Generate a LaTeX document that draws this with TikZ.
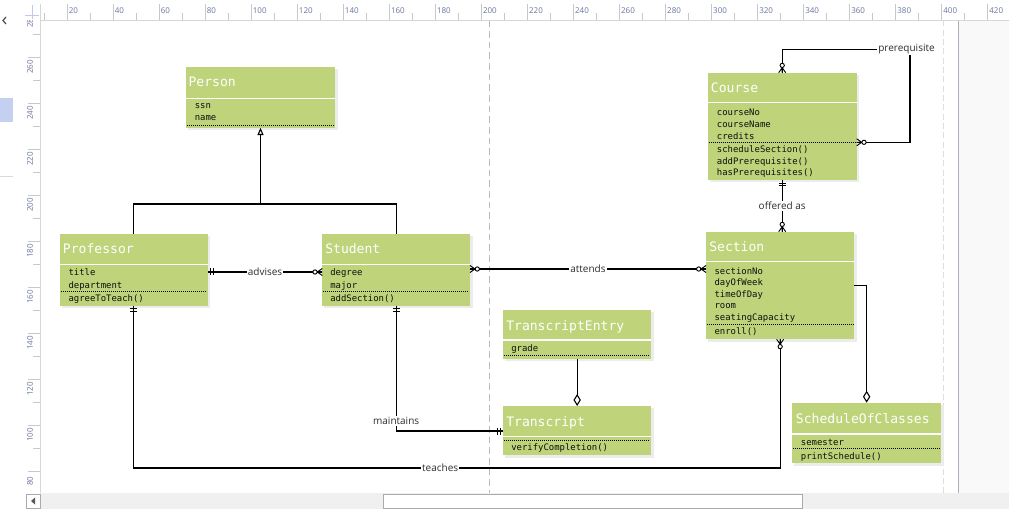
\documentclass[tikz,border=0pt]{standalone}
\usepackage{fontspec}
\setmainfont{Open Sans}
\newfontfamily\monof{DejaVu Sans Mono}
\usetikzlibrary{arrows.meta,fit,calc}
\definecolor{clsgreen}{RGB}{190,211,122}
\definecolor{shadowgray}{RGB}{236,236,236}
\definecolor{attrtext}{RGB}{15,15,15}
\definecolor{lbltext}{RGB}{45,45,45}
\definecolor{rulertext}{RGB}{105,118,160}
\definecolor{tickgray}{RGB}{200,200,200}
\definecolor{rulerline}{RGB}{215,215,215}
\definecolor{crossblue}{RGB}{190,200,240}
\definecolor{panelblue}{RGB}{197,208,240}
\definecolor{scrollgray}{RGB}{240,240,240}
\definecolor{scrollborder}{RGB}{170,170,170}
\definecolor{rightbg}{RGB}{249,249,249}
\definecolor{rightline}{RGB}{170,175,190}
\definecolor{pagedash}{RGB}{185,185,185}
\definecolor{pagedashlight}{RGB}{222,222,222}
\newcommand{\erzm}[2]{\begin{scope}[shift={(#1)},rotate=#2]
 \draw[mk] (0,-3.5) -- (5,0) -- (0,3.5) (0,0) -- (5,0);
 \draw[mk,fill=white] (7.3,0) circle [radius=1.6pt];
\end{scope}}
\newcommand{\erone}[2]{\begin{scope}[shift={(#1)},rotate=#2]
 \draw[mk] (3,-3.5) -- (3,3.5) (5.5,-3.5) -- (5.5,3.5);
\end{scope}}
\newcommand{\clsbox}[7]{%
 \fill[shadowgray] (#2+2,#3+2) rectangle (#4+2.5,#5+2.5);
 \node[clsfill, fit={(#2,#3) (#4,#5)}] (#1) {};
 \draw[sepw] (#2,#6) -- (#4,#6);
 \draw[sepdot] (#2+1,#7) -- (#4-1,#7);
}
\begin{document}
\begin{tikzpicture}[x=0.75pt,y=-0.75pt,
 conn/.style={draw=black, line width=0.8pt},
 mk/.style={draw=black, line width=0.7pt},
 clsfill/.style={fill=clsgreen, draw=none, inner sep=0pt, outer sep=0pt},
 sepw/.style={draw=white, line width=1pt},
 sepdot/.style={draw=black, line width=0.7pt, dash pattern=on 0.7pt off 0.8pt},
 ttl/.style={font=\monof\fontsize{9.8}{12}\selectfont, text=white, inner sep=0pt, anchor=base west},
 attr/.style={font=\monof\fontsize{6.7}{8}\selectfont, text=attrtext, inner sep=0pt, anchor=base west, yshift=-1.1pt},
 lbl/.style={font=\fontsize{7.5}{9}\selectfont, text=lbltext, fill=white, inner sep=0.8pt},
 rul/.style={font=\fontsize{6}{7}\selectfont, text=rulertext, inner sep=0pt},
 tick/.style={draw=tickgray, line width=0.6pt},
]
\useasboundingbox (0,0) rectangle (1009,516);
\fill[white] (0,0) rectangle (1009,516);

% ---------- editor frame ----------
\fill[rightbg] (959,20.5) rectangle (1009,493);
\draw[rightline, line width=0.9pt] (958.7,20.5) -- (958.7,493);
\draw[pagedashlight, line width=0.6pt, dash pattern=on 4.5pt off 2.5pt] (943.3,20.5) -- (943.3,493);
\draw[pagedash, line width=0.6pt, dash pattern=on 5pt off 3pt] (489,20.5) -- (489,493);

% top ruler
\draw[rulerline, line width=0.6pt] (40,20) -- (1009,20);
\draw[rulerline, line width=0.6pt] (40,4) -- (40,493);
\foreach \k in {1,...,21} {
 \pgfmathsetmacro\xx{21+46.03*\k}
 \pgfmathtruncatemacro\vv{20*\k}
 \draw[tick] (\xx,4) -- (\xx,20);
 \node[rul, anchor=west] at (\xx+1.5,11) {\vv};
}
\foreach \k in {0,...,20} {
 \draw[tick] ({44.015+46.03*\k},13) -- ++(0,7);
}
% crosshair
\draw[crossblue, line width=0.6pt] (32,5) -- (32,19) (25,15) -- (38.5,15);

% left ruler
\begin{scope}
\clip (13,20.3) rectangle (40,493);
\foreach \m in {-1,...,9} {
 \pgfmathsetmacro\yy{57.3+46.04*\m}
 \pgfmathtruncatemacro\vv{260-20*\m}
 \draw[tick] (28,\yy) -- (40,\yy);
 \draw[tick] (33,\yy+23.02) -- (40,\yy+23.02);
 \node[rul, rotate=90] at (30,\yy+9.5) {\vv};
}
\end{scope}

% left panel
\fill[panelblue] (0,98) rectangle (13,122);
\draw[black!15, line width=0.6pt] (0,176) -- (13,176);
\draw[black!70, line width=0.9pt] (6,17) -- (3,20.5) -- (6,24);

% scroll bar
\fill[scrollgray] (40,493) rectangle (1009,509);
\draw[scrollborder, fill=white, line width=0.6pt] (383,494) rectangle (802,508);
\draw[scrollborder, fill=white, line width=0.6pt] (26.5,494) rectangle (40,508);
\fill[black!65] (35,497.5) -- (31,501) -- (35,504.5) -- cycle;

% ---------- classes ----------
\clsbox{person}{186}{67}{335}{127.7}{98.3}{125}
\clsbox{prof}{60}{234}{207.7}{305.7}{264.3}{291}
\clsbox{student}{322.3}{234}{470}{305.7}{264.3}{291}
\clsbox{course}{707.7}{72.7}{856.7}{180}{102.7}{142.3}
\clsbox{section}{706}{231.7}{854.3}{339.3}{261.7}{324.3}
\clsbox{tentry}{503.3}{310}{651}{358.7}{340}{355}
\clsbox{transcript}{503.3}{406}{651}{455}{436.7}{440}
\clsbox{soc}{792.3}{402.7}{941}{463.3}{434}{448.3}

\node[ttl] at (188.3,87) {Person};
\node[attr] at (194.5,107.3) {ssn};
\node[attr] at (194.5,119.3) {name};

\node[ttl] at (62.7,253.5) {Professor};
\node[attr] at (68.3,274.5) {title};
\node[attr] at (68.3,287) {department};
\node[attr] at (68.3,300) {agreeToTeach()};

\node[ttl] at (325,253.5) {Student};
\node[attr] at (330,274.5) {degree};
\node[attr] at (330,287) {major};
\node[attr] at (330,300) {addSection()};

\node[ttl] at (710.7,92.5) {Course};
\node[attr] at (716.7,114) {courseNo};
\node[attr] at (716.7,126) {courseName};
\node[attr] at (716.7,137.7) {credits};
\node[attr] at (716.7,151.5) {scheduleSection()};
\node[attr] at (716.7,163) {addPrerequisite()};
\node[attr] at (716.7,174.5) {hasPrerequisites()};

\node[ttl] at (709,251.5) {Section};
\node[attr] at (714.3,272.7) {sectionNo};
\node[attr] at (714.3,284.2) {dayOfWeek};
\node[attr] at (714.3,295.7) {timeOfDay};
\node[attr] at (714.3,307.2) {room};
\node[attr] at (714.3,318.7) {seatingCapacity};
\node[attr] at (714.3,332.7) {enroll()};

\node[ttl] at (506,330) {TranscriptEntry};
\node[attr] at (511,350) {grade};

\node[ttl] at (506,426.5) {Transcript};
\node[attr] at (511,449.3) {verifyCompletion()};

\node[ttl] at (795.7,423.5) {ScheduleOfClasses};
\node[attr] at (800.7,444) {semester};
\node[attr] at (800.7,458.3) {printSchedule()};

% ---------- connectors ----------
\coordinate (gY) at (0,204);
\coordinate (advY) at (0,272);
\coordinate (attY) at (0,269);
\coordinate (tchY) at (0,468);
\coordinate (mntY) at (0,431);
\coordinate (secY) at (0,285.3);
\coordinate (preY) at (0,49.3);
\coordinate (preX) at (910,0);
\coordinate (preR) at (0,142.3);
\coordinate (preL) at (906.5,49.3);

% generalization
\draw[conn] (prof.north) |- (student.north |- gY) -- (student.north);
\draw[conn, -{Triangle[open,length=5.5pt,width=4.5pt]}] (person.south |- gY) -- (person.south);

% advises
\draw[conn] (prof.east |- advY) -- node[lbl]{advises} (student.west |- advY);
\erone{prof.east |- advY}{0}
\erzm{student.west |- advY}{180}

% attends
\draw[conn] (student.east |- attY) -- node[lbl]{attends} (section.west |- attY);
\erzm{student.east |- attY}{0}
\erzm{section.west |- attY}{180}

% teaches
\draw[conn] (prof.south) |- node[lbl, pos=0.737]{teaches} (section.south |- tchY) -- (section.south);
\erone{prof.south}{270}
\erzm{section.south}{270}

% maintains
\draw[conn] (student.south) |- node[lbl, pos=0.46]{maintains} (transcript.west |- mntY);
\erone{student.south}{270}
\erone{transcript.west |- mntY}{180}

% aggregation TranscriptEntry - Transcript
\draw[conn, -{Diamond[open,length=9pt,width=5.5pt]}] (tentry.south) -- (transcript.north);

% aggregation Section - ScheduleOfClasses
\draw[conn, -{Diamond[open,length=9pt,width=5.5pt]}] (section.east |- secY) -| (soc.north);

% offered as
\draw[conn] (course.south) -- node[lbl]{offered as} (course.south |- section.north);
\erone{course.south}{270}
\erzm{course.south |- section.north}{90}

% prerequisite
\draw[conn] (course.north) |- (preX |- preY) |- (course.east |- preR);
\node[lbl] at (preL) {prerequisite};
\erzm{course.north}{90}
\erzm{course.east |- preR}{0}
\end{tikzpicture}
\end{document}
